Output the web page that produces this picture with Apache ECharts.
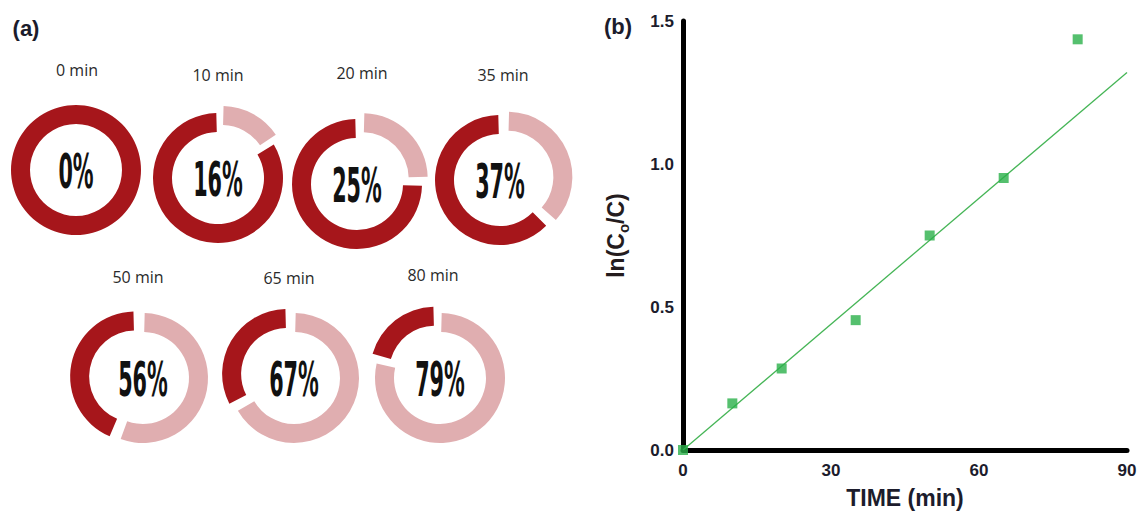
<!DOCTYPE html>
<html>
<head>
<meta charset="utf-8">
<script src="https://cdn.jsdelivr.net/npm/echarts@6/dist/echarts.min.js"></script>
<style>
  html, body { margin: 0; padding: 0; background: #ffffff; }
  #chart { width: 1140px; height: 516px; }
</style>
</head>
<body>
<div id="chart"></div>
<script>
// ---------------- data ----------------
const times = [0, 10, 20, 35, 50, 65, 80];               // min
const removalPct = [0, 16, 25, 37, 56, 67, 79];          // % degraded
const lnC0C = [0, 0.163, 0.285, 0.454, 0.750, 0.951, 1.436];
const fitTime = [0, 90];
const fitLn = [0, 1.32];
const xTicks = [0, 30, 60, 90];
const yTicks = [0, 0.5, 1.0, 1.5];

// ---------------- layout (panel a) ----------------
const donutCenters = [[76, 170], [218, 178], [357, 184], [500, 180], [143, 378], [294, 378], [440, 378]];
const timeLabelPos = [[77, 70], [218, 75], [362, 73], [503, 75], [138, 277], [289, 278], [433, 275]];
const DARK = '#a6161b';
const PINK = '#e0aeb0';
const TXT = '#1c1c2c';

const chart = echarts.init(document.getElementById('chart'), null, { renderer: 'svg' });

const pieSeries = removalPct.map((p, i) => ({
  type: 'pie',
  center: donutCenters[i],
  radius: [46, 65],
  startAngle: 90,
  clockwise: true,
  padAngle: p > 0 ? 3 : 0,
  selectedMode: 'single',
  selectedOffset: 8,
  silent: true,
  animation: false,
  label: { show: false },
  labelLine: { show: false },
  emphasis: { disabled: true },
  data: [
    { name: 'degraded', value: p, selected: p > 0 && p < 50, itemStyle: { color: PINK } },
    { name: 'remaining', value: 100 - p, selected: p >= 50, itemStyle: { color: DARK } }
  ]
}));

const graphics = [];
graphics.push({ type: 'text', x: 26, y: 28, style: { text: '(a)', fill: TXT, font: 'bold 22px "Liberation Sans", Arial, sans-serif', textAlign: 'center', textVerticalAlign: 'middle', align: 'center', verticalAlign: 'middle' } });
graphics.push({ type: 'text', x: 618, y: 26, style: { text: '(b)', fill: TXT, font: 'bold 22px "Liberation Sans", Arial, sans-serif', textAlign: 'center', textVerticalAlign: 'middle', align: 'center', verticalAlign: 'middle' } });
times.forEach((t, i) => {
  graphics.push({ type: 'text', x: timeLabelPos[i][0], y: timeLabelPos[i][1], silent: true,
    style: { text: t + ' min', fill: '#2a2a2a', font: '16px "Open Sans", "Noto Sans", sans-serif', textAlign: 'center', textVerticalAlign: 'middle', align: 'center', verticalAlign: 'middle' } });
  graphics.push({ type: 'text', x: donutCenters[i][0], y: donutCenters[i][1] + 1, scaleX: 0.72, scaleY: 1.5, silent: true,
    style: { text: removalPct[i] + '%', fill: '#111111', font: 'bold 32px "Liberation Sans Narrow", "DejaVu Sans Condensed", sans-serif', textAlign: 'center', textVerticalAlign: 'middle', align: 'center', verticalAlign: 'middle' } });
});

const axisLabelStyle = { color: TXT, fontSize: 17, fontWeight: 'bold', fontFamily: '"Liberation Sans", Arial, sans-serif' };

const option = {
  animation: false,
  backgroundColor: '#ffffff',
  grid: { left: 683, right: 13, top: 21, bottom: 66 },
  xAxis: {
    type: 'value', min: xTicks[0], max: xTicks[xTicks.length - 1], interval: xTicks[1] - xTicks[0],
    axisLine: { show: true, onZero: false, lineStyle: { color: '#000000', width: 5 } },
    axisTick: { show: false }, splitLine: { show: false },
    axisLabel: Object.assign({ margin: 12 }, axisLabelStyle),
    name: 'TIME (min)', nameLocation: 'middle', nameGap: 36,
    nameTextStyle: { color: TXT, fontSize: 23, fontWeight: 'bold', fontFamily: '"Liberation Sans", Arial, sans-serif' }
  },
  yAxis: {
    type: 'value', min: yTicks[0], max: yTicks[yTicks.length - 1], interval: yTicks[1] - yTicks[0],
    axisLine: { show: true, onZero: false, lineStyle: { color: '#000000', width: 5 } },
    axisTick: { show: false }, splitLine: { show: false },
    axisLabel: Object.assign({ margin: 9, formatter: v => v.toFixed(1) }, axisLabelStyle),
    name: '{n|ln(C}{s|o}{n|/C)}', nameLocation: 'middle', nameGap: 52, nameRotate: 90,
    nameTextStyle: {
      color: '#241c1e',
      rich: {
        n: { fontSize: 23, fontWeight: 'bold', fontFamily: '"Liberation Sans", Arial, sans-serif', color: '#241c1e', lineHeight: 30 },
        s: { fontSize: 15, fontWeight: 'bold', fontFamily: '"Liberation Sans", Arial, sans-serif', color: '#241c1e', verticalAlign: 'bottom' }
      }
    }
  },
  graphic: graphics,
  series: pieSeries.concat([
    {
      type: 'line',
      data: fitTime.map((t, i) => [t, fitLn[i]]),
      showSymbol: false, symbol: 'none',
      lineStyle: { color: '#45b556', width: 1.3 },
      silent: true, z: 3
    },
    {
      type: 'scatter',
      data: times.map((t, i) => [t, lnC0C[i]]),
      symbol: 'rect', symbolSize: 10,
      itemStyle: { color: '#2bb04a' },
      clip: false, silent: true, z: 4
    }
  ])
};

chart.setOption(option);
</script>
</body>
</html>
